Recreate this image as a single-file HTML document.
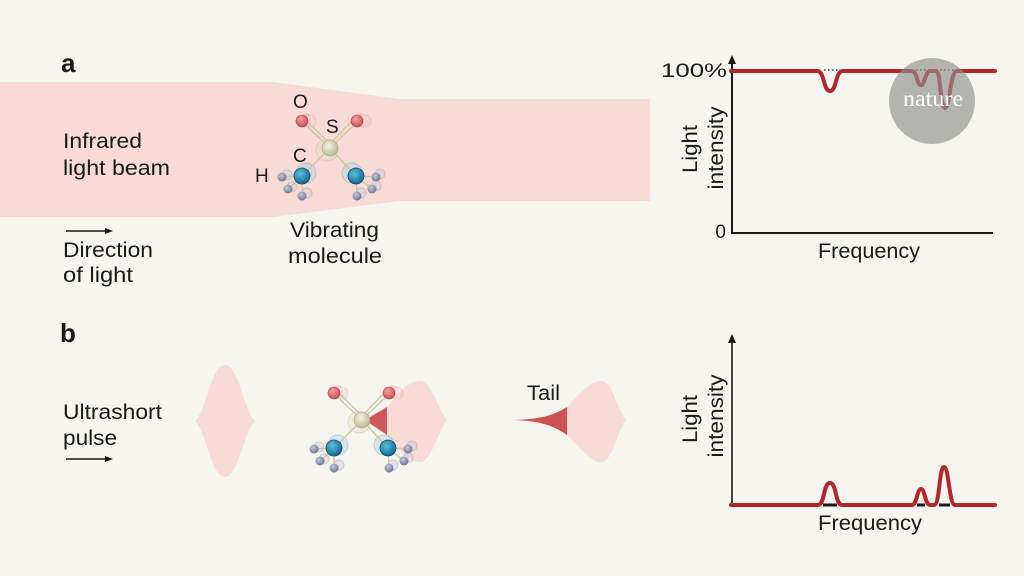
<!DOCTYPE html>
<html><head><meta charset="utf-8"><style>
html,body{margin:0;padding:0;background:#f6f5ef;}
svg{display:block;}
text{font-family:"Liberation Sans",sans-serif;fill:#1a1a1a;}
</style></head><body>
<svg width="1024" height="576" viewBox="0 0 1024 576" xmlns="http://www.w3.org/2000/svg">
<defs>
<radialGradient id="gS" cx="0.4" cy="0.35" r="0.7"><stop offset="0" stop-color="#f2f1e0"/><stop offset="1" stop-color="#b9b693"/></radialGradient>
<radialGradient id="gO" cx="0.4" cy="0.35" r="0.7"><stop offset="0" stop-color="#f3a3a3"/><stop offset="1" stop-color="#c8464c"/></radialGradient>
<radialGradient id="gC" cx="0.4" cy="0.35" r="0.7"><stop offset="0" stop-color="#5fc0e0"/><stop offset="1" stop-color="#12618a"/></radialGradient>
<radialGradient id="gH" cx="0.4" cy="0.35" r="0.7"><stop offset="0" stop-color="#c5c9d9"/><stop offset="1" stop-color="#6a7090"/></radialGradient>
<g id="mol">
  <g opacity="0.4" fill="none" stroke-width="1">
    <circle cx="306" cy="120" r="6" stroke="#d77" fill="#f3b5b5"/><circle cx="310" cy="121" r="6" stroke="#e99" fill="#f5c5c5"/>
    <circle cx="361" cy="120" r="6" stroke="#d77" fill="#f3b5b5"/><circle cx="365" cy="121" r="6" stroke="#e99" fill="#f5c5c5"/>
    <circle cx="327" cy="150" r="11" stroke="#bbb692" fill="#e2dfc6"/>
    <circle cx="306" cy="173" r="10" stroke="#5b9cc4" fill="#a8d0e6"/><circle cx="352" cy="173" r="10" stroke="#5b9cc4" fill="#a8d0e6"/>
    <circle cx="287" cy="175" r="5" stroke="#8d92ad" fill="#c9ccd9"/><circle cx="292" cy="187" r="5" stroke="#8d92ad" fill="#c9ccd9"/><circle cx="307" cy="193" r="5" stroke="#8d92ad" fill="#c9ccd9"/>
    <circle cx="380" cy="174" r="5" stroke="#8d92ad" fill="#c9ccd9"/><circle cx="376" cy="186" r="5" stroke="#8d92ad" fill="#c9ccd9"/><circle cx="361" cy="193" r="5" stroke="#8d92ad" fill="#c9ccd9"/>
  </g>
  <g stroke="#cdc7a5" stroke-width="1.4" fill="none">
    <line x1="328" y1="146" x2="300" y2="120"/><line x1="332" y1="146" x2="304" y2="118"/>
    <line x1="328" y1="146" x2="355" y2="118"/><line x1="332" y1="146" x2="359" y2="120"/>
    <line x1="330" y1="148" x2="302" y2="176"/><line x1="330" y1="148" x2="356" y2="176"/>
    <line x1="302" y1="176" x2="282" y2="177"/><line x1="302" y1="176" x2="288" y2="189"/><line x1="302" y1="176" x2="302" y2="196"/>
    <line x1="356" y1="176" x2="376" y2="177"/><line x1="356" y1="176" x2="372" y2="189"/><line x1="356" y1="176" x2="357" y2="196"/>
  </g>
  <circle cx="302" cy="121" r="6" fill="url(#gO)" stroke="#b8424a" stroke-width="0.6"/>
  <circle cx="357" cy="121" r="6" fill="url(#gO)" stroke="#b8424a" stroke-width="0.6"/>
  <circle cx="330" cy="148" r="8" fill="url(#gS)" stroke="#a8a585" stroke-width="0.6"/>
  <circle cx="282" cy="177" r="4.5" fill="url(#gH)"/>
  <circle cx="288" cy="189" r="4.5" fill="url(#gH)"/>
  <circle cx="302" cy="196" r="4.5" fill="url(#gH)"/>
  <circle cx="376" cy="177" r="4.5" fill="url(#gH)"/>
  <circle cx="372" cy="189" r="4.5" fill="url(#gH)"/>
  <circle cx="357" cy="196" r="4.5" fill="url(#gH)"/>
  <circle cx="302" cy="176" r="8" fill="url(#gC)" stroke="#0e4e70" stroke-width="0.8"/>
  <circle cx="356" cy="176" r="8" fill="url(#gC)" stroke="#0e4e70" stroke-width="0.8"/>
</g>
</defs>

<path d="M0,82 L273,82 L400,99 L650,99 L650,201 L400,201 L273,217 L0,217 Z" fill="#f8dbd4"/>
<use href="#mol"/>

<text x="61" y="72" font-size="26" font-weight="bold">a</text>
<text x="63" y="148" font-size="21" textLength="79" lengthAdjust="spacingAndGlyphs">Infrared</text>
<text x="63" y="175" font-size="21" textLength="107" lengthAdjust="spacingAndGlyphs">light beam</text>
<line x1="66" y1="231" x2="107" y2="231" stroke="#1a1a1a" stroke-width="1.4"/>
<path d="M113,231 L105,228 L105,234 Z" fill="#1a1a1a"/>
<text x="63" y="257" font-size="21" textLength="90" lengthAdjust="spacingAndGlyphs">Direction</text>
<text x="63" y="282" font-size="21" textLength="70" lengthAdjust="spacingAndGlyphs">of light</text>

<text x="293" y="108" font-size="19">O</text>
<text x="326" y="133" font-size="19">S</text>
<text x="293" y="162" font-size="19">C</text>
<text x="255" y="182" font-size="19">H</text>
<text x="290" y="237" font-size="21" textLength="89" lengthAdjust="spacingAndGlyphs">Vibrating</text>
<text x="288" y="263" font-size="21" textLength="94" lengthAdjust="spacingAndGlyphs">molecule</text>

<line x1="732" y1="62" x2="732" y2="233" stroke="#1a1a1a" stroke-width="2"/>
<path d="M732,55 L728,64 L736,64 Z" fill="#1a1a1a"/>
<line x1="731" y1="233" x2="993" y2="233" stroke="#1a1a1a" stroke-width="2"/>
<text x="661" y="77" font-size="19" textLength="66" lengthAdjust="spacingAndGlyphs">100%</text>
<text x="726" y="238" font-size="19" text-anchor="end">0</text>
<text transform="translate(697,149) rotate(-90)" font-size="21" text-anchor="middle" textLength="48" lengthAdjust="spacingAndGlyphs">Light</text>
<text transform="translate(723,148) rotate(-90)" font-size="21" text-anchor="middle" textLength="83" lengthAdjust="spacingAndGlyphs">intensity</text>
<text x="818" y="258" font-size="21" textLength="102" lengthAdjust="spacingAndGlyphs">Frequency</text>
<g stroke="#1a1a1a" stroke-width="1.2" stroke-dasharray="1.5 2.5">
  <line x1="824" y1="70" x2="838" y2="70"/>
  <line x1="916" y1="70" x2="954" y2="70"/>
</g>
<path d="M731,71 L817,71 C825,71 823,91 830,91 C837,91 835,71 843,71 L912,71 C917,71 917,85 921,85 C925,85 925,71 930,71 L936,71 C941,71 940,108 945,108 C950,108 950,71 957,71 L995,71" fill="none" stroke="#b3262b" stroke-width="4" stroke-linecap="round" stroke-linejoin="round"/>
<circle cx="932" cy="101" r="43" fill="#8f8f8d" opacity="0.65"/>
<text x="933" y="106" font-size="23" text-anchor="middle" style="font-family:'Liberation Serif',serif;fill:#ffffff" textLength="60" lengthAdjust="spacingAndGlyphs">nature</text>

<text x="60" y="342" font-size="26" font-weight="bold">b</text>
<text x="63" y="419" font-size="21" textLength="99" lengthAdjust="spacingAndGlyphs">Ultrashort</text>
<text x="63" y="445" font-size="21" textLength="54" lengthAdjust="spacingAndGlyphs">pulse</text>
<line x1="66" y1="459" x2="107" y2="459" stroke="#1a1a1a" stroke-width="1.4"/>
<path d="M113,459 L105,456 L105,462 Z" fill="#1a1a1a"/>

<path d="M195,421 C206,412 211,365 225,365 C239,365 244,412 255,421 C244,430 239,477 225,477 C211,477 206,430 195,421 Z" fill="#f8dbd4"/>
<path d="M387,407 C398,394 408,381 420,381 C432,381 439,412 447,420 C439,428 432,462 420,462 C408,462 398,447 387,435 Z" fill="#f8dbd4"/>
<path d="M365,420 L387,407 L387,435 Z" fill="#d0575a"/>
<use href="#mol" transform="translate(32,272)"/>

<path d="M567,407 C580,394 590,381 601,381 C613,381 618,412 626,420 C618,428 613,462 601,462 C590,462 580,447 567,435 Z" fill="#f8dbd4"/>
<path d="M512,420 C538,419.5 553,416 567,407 L567,435 C553,425 538,420.5 512,420 Z" fill="#cd5053"/>
<text x="527" y="400" font-size="21" textLength="33" lengthAdjust="spacingAndGlyphs">Tail</text>

<line x1="732" y1="342" x2="732" y2="505" stroke="#1a1a1a" stroke-width="1.6"/>
<path d="M732,334 L728,343 L736,343 Z" fill="#1a1a1a"/>
<text transform="translate(697,419) rotate(-90)" font-size="21" text-anchor="middle" textLength="48" lengthAdjust="spacingAndGlyphs">Light</text>
<text transform="translate(723,416) rotate(-90)" font-size="21" text-anchor="middle" textLength="83" lengthAdjust="spacingAndGlyphs">intensity</text>
<path d="M731,505 L818,505 C825,505 823,483 830,483 C837,483 835,505 842,505 L912,505 C917,505 917,489 921,489 C925,489 925,505 930,505 L934,505 C940,505 939,467 944,467 C949,467 949,505 955,505 L995,505" fill="none" stroke="#b3262b" stroke-width="4" stroke-linecap="round" stroke-linejoin="round"/>
<g stroke="#1a1a1a" stroke-width="3">
  <line x1="823" y1="505" x2="837" y2="505"/>
  <line x1="917" y1="505" x2="925" y2="505"/>
  <line x1="939" y1="505" x2="950" y2="505"/>
</g>
<text x="818" y="530" font-size="21" textLength="104" lengthAdjust="spacingAndGlyphs">Frequency</text>
</svg>
</body></html>
